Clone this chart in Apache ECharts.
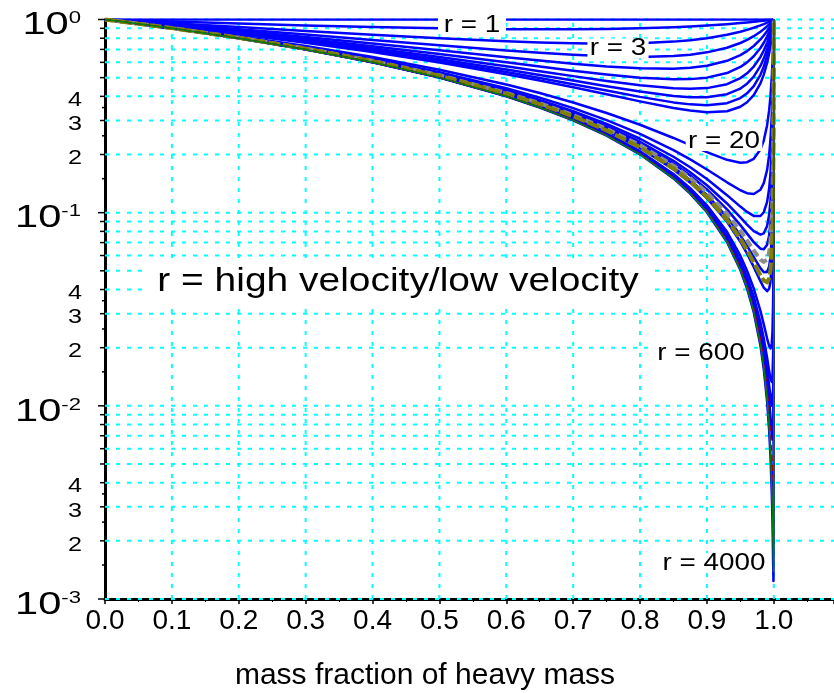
<!DOCTYPE html>
<html><head><meta charset="utf-8">
<script src="https://cdn.jsdelivr.net/npm/echarts@6/dist/echarts.min.js"></script>
<style>html,body{margin:0;padding:0;background:#fff}#c{width:834px;height:693px}</style>
</head><body><div id="c"></div>
<script>
// ---- data ----
const massFraction = [0,0.1,0.2,0.3,0.4,0.5,0.6,0.65,0.7,0.75,0.8,0.85,0.875,0.9,0.93,0.95,0.96,0.97,0.98,0.985,0.99,0.993,0.995,0.997,0.998,0.999,0.9995,0.99975,0.9999,1];
const r1   = [1,1,1,1,1,1,1,1,1,1,1,1,1,1,1,1,1,1,1,1,1,1,1,1,1,1,1,1,1,1];
const r2   = [1,0.9757,0.9529,0.9323,0.9143,0.9,0.8909,0.889,0.8895,0.8929,0.9,0.9121,0.9205,0.9308,0.9462,0.9587,0.9657,0.9733,0.9815,0.9859,0.9904,0.9932,0.9951,0.997,0.998,0.999,0.9995,0.99975,0.9999,1];
const r3   = [1,0.9561,0.9135,0.8727,0.8345,0.8,0.7714,0.7605,0.7529,0.75,0.7538,0.7682,0.7813,0.8,0.8331,0.8643,0.8836,0.9061,0.9324,0.9472,0.9633,0.9737,0.9809,0.9883,0.9921,0.996,0.998,0.999,0.9996,1];
const r4   = [1,0.9441,0.8892,0.8357,0.784,0.7353,0.6914,0.6724,0.6564,0.6447,0.64,0.6469,0.6576,0.676,0.7142,0.7557,0.784,0.8194,0.8643,0.8915,0.9225,0.9434,0.9583,0.9742,0.9826,0.9911,0.9955,0.9978,0.9991,1];
const r5   = [1,0.9363,0.8733,0.8112,0.7506,0.6923,0.6377,0.6128,0.5902,0.5714,0.5586,0.5565,0.5625,0.5765,0.6113,0.6545,0.6865,0.7293,0.7881,0.8262,0.8723,0.9048,0.9289,0.9554,0.9695,0.9844,0.9921,0.996,0.9984,1];
const r6   = [1,0.9308,0.8621,0.7941,0.7273,0.6622,0.6,0.5708,0.5435,0.5192,0.5,0.49,0.4913,0.5,0.5283,0.5682,0.6,0.6451,0.7118,0.7578,0.8167,0.8604,0.8942,0.9323,0.9534,0.9759,0.9877,0.9938,0.9975,1];
const r7   = [1,0.9267,0.8538,0.7815,0.7101,0.64,0.5723,0.5399,0.5091,0.4808,0.4566,0.4402,0.4375,0.4414,0.4625,0.4971,0.5266,0.5707,0.64,0.6908,0.7592,0.8127,0.8556,0.9059,0.9344,0.9657,0.9824,0.9911,0.9964,1];
const r8   = [1,0.9236,0.8475,0.7718,0.6969,0.6231,0.5511,0.5164,0.4829,0.4515,0.4235,0.4022,0.3961,0.3959,0.4104,0.4392,0.4655,0.5066,0.575,0.6278,0.7024,0.7636,0.8146,0.8767,0.9131,0.954,0.9763,0.9879,0.9951,1];
const r9   = [1,0.9211,0.8425,0.7642,0.6865,0.6098,0.5345,0.4979,0.4624,0.4286,0.3976,0.3723,0.3636,0.36,0.3687,0.392,0.4149,0.4522,0.5175,0.5702,0.648,0.7148,0.7726,0.8456,0.8899,0.9408,0.9692,0.9843,0.9937,1];
const r10  = [1,0.9191,0.8384,0.758,0.6781,0.599,0.5212,0.4831,0.4459,0.4102,0.3769,0.3484,0.3376,0.3312,0.335,0.3534,0.3729,0.4063,0.4672,0.5184,0.597,0.6674,0.7305,0.8132,0.8651,0.9264,0.9614,0.9802,0.992,1];
const r20  = [1,0.9098,0.8196,0.7295,0.6396,0.5499,0.4605,0.4161,0.3719,0.3282,0.2851,0.2436,0.2239,0.2056,0.1877,0.1815,0.1826,0.19,0.2121,0.2364,0.2838,0.3384,0.4003,0.5085,0.5992,0.7422,0.8496,0.918,0.9653,1];
const r30  = [1,0.9066,0.8132,0.7198,0.6265,0.5333,0.4403,0.3939,0.3476,0.3015,0.2558,0.2107,0.1887,0.1673,0.1436,0.1306,0.1262,0.125,0.1315,0.1422,0.1666,0.1984,0.2386,0.3196,0.4001,0.5576,0.71,0.8284,0.9228,1];
const r40  = [1,0.905,0.8099,0.7149,0.6199,0.525,0.4302,0.3828,0.3355,0.2884,0.2414,0.1948,0.1718,0.1492,0.1232,0.1075,0.1009,0.0962,0.0961,0.1005,0.1137,0.1329,0.1588,0.2152,0.2768,0.4154,0.5776,0.7284,0.8689,1];
const r50  = [1,0.904,0.8079,0.7119,0.6159,0.52,0.4241,0.3762,0.3283,0.2806,0.2329,0.1855,0.162,0.1387,0.1116,0.0945,0.0868,0.0803,0.0769,0.0782,0.0854,0.0975,0.1149,0.1548,0.201,0.3145,0.4666,0.6307,0.8079,1];
const r60  = [1,0.9033,0.8066,0.7099,0.6133,0.5167,0.4201,0.3718,0.3236,0.2754,0.2273,0.1794,0.1556,0.1319,0.104,0.0862,0.0779,0.0704,0.0651,0.0646,0.0683,0.0762,0.0883,0.1174,0.1525,0.2439,0.3786,0.542,0.7441,1];
const r70  = [1,0.9028,0.8057,0.7085,0.6114,0.5143,0.4172,0.3687,0.3202,0.2717,0.2233,0.1751,0.151,0.1271,0.0988,0.0805,0.0718,0.0637,0.0572,0.0556,0.0571,0.0623,0.071,0.0928,0.1199,0.1937,0.3102,0.4651,0.6805,1];
const r80  = [1,0.9025,0.805,0.7075,0.61,0.5125,0.415,0.3663,0.3176,0.269,0.2204,0.1718,0.1477,0.1236,0.095,0.0763,0.0673,0.0589,0.0516,0.0492,0.0493,0.0527,0.059,0.0758,0.0972,0.1574,0.2573,0.4,0.6195,1];
const r90  = [1,0.9022,0.8044,0.7066,0.6089,0.5111,0.4134,0.3645,0.3157,0.2668,0.2181,0.1694,0.1451,0.1209,0.092,0.0732,0.064,0.0552,0.0474,0.0445,0.0436,0.0457,0.0503,0.0635,0.0807,0.1303,0.2161,0.3455,0.5624,1];
const r100 = [1,0.902,0.804,0.706,0.608,0.51,0.412,0.3631,0.3141,0.2651,0.2162,0.1674,0.143,0.1187,0.0897,0.0707,0.0614,0.0524,0.0442,0.0409,0.0392,0.0404,0.0438,0.0543,0.0683,0.1098,0.1836,0.3001,0.51,1];
const r200 = [1,0.901,0.802,0.703,0.604,0.505,0.406,0.3565,0.307,0.2575,0.2081,0.1586,0.1339,0.1092,0.0796,0.0599,0.0501,0.0405,0.031,0.0264,0.0223,0.0204,0.0198,0.0211,0.0241,0.0351,0.0576,0.1002,0.208,1];
const r300 = [1,0.9007,0.8013,0.702,0.6027,0.5033,0.404,0.3543,0.3047,0.255,0.2054,0.1557,0.1309,0.1061,0.0763,0.0565,0.0466,0.0368,0.0271,0.0223,0.0177,0.0152,0.0138,0.0133,0.0141,0.0185,0.0287,0.0492,0.1061,1];
const r400 = [1,0.9005,0.801,0.7015,0.602,0.5025,0.403,0.3533,0.3035,0.2537,0.204,0.1543,0.1294,0.1045,0.0747,0.0549,0.0449,0.035,0.0252,0.0203,0.0156,0.0128,0.0112,0.01,0.0101,0.0122,0.0178,0.0295,0.0636,1];
const r600 = [1,0.9003,0.8007,0.701,0.6013,0.5017,0.402,0.3522,0.3023,0.2525,0.2027,0.1528,0.1279,0.103,0.0731,0.0532,0.0433,0.0333,0.0234,0.0185,0.0136,0.0107,0.00886,0.00724,0.0067,0.00708,0.00933,0.01453,0.0304,1];
const r1000 = [1,0.9002,0.8004,0.7006,0.6008,0.501,0.4012,0.3513,0.3014,0.2515,0.2016,0.1517,0.1268,0.1018,0.0719,0.0519,0.0419,0.032,0.022,0.017,0.0121,0.00913,0.00719,0.00532,0.00449,0.00399,0.00449,0.00622,0.01198,1];
const r2000 = [1,0.9001,0.8002,0.7003,0.6004,0.5005,0.4006,0.3507,0.3007,0.2508,0.2008,0.1508,0.1259,0.1009,0.0709,0.051,0.041,0.031,0.021,0.016,0.011,0.00803,0.00604,0.00408,0.00312,0.00225,0.002,0.00225,0.00359,1];
const r3000 = [1,0.9001,0.8001,0.7002,0.6003,0.5003,0.4004,0.3504,0.3005,0.2505,0.2005,0.1506,0.1256,0.1006,0.0706,0.0506,0.0406,0.0307,0.0207,0.0157,0.0107,0.00768,0.00569,0.0037,0.00272,0.00178,0.00139,0.00136,0.00188,1];
const r4000 = [1,0.9,0.8001,0.7002,0.6002,0.5002,0.4003,0.3503,0.3003,0.2504,0.2004,0.1504,0.1254,0.1005,0.0705,0.0505,0.0405,0.0305,0.0205,0.0155,0.0105,0.0075,0.00551,0.00352,0.00253,0.00156,0.00124,0.00123,0.00124,1];

// axis / tick labels
const xTickLabels = ['0.0','0.1','0.2','0.3','0.4','0.5','0.6','0.7','0.8','0.9','1.0'];
const yMajorValues = [1, 0.1, 0.01, 0.001];
const yMajorExponents = ['0', '-1', '-2', '-3'];
const yMinorLabelValues = [0.4, 0.3, 0.2, 0.04, 0.03, 0.02, 0.004, 0.003, 0.002];
const yMinorLabels = ['4', '3', '2', '4', '3', '2', '4', '3', '2'];
const yGridValues = [1,0.9,0.8,0.7,0.6,0.5,0.4,0.3,0.2,0.1,0.09,0.08,0.07,0.06,0.05,0.04,0.03,0.02,0.01,0.009,0.008,0.007,0.006,0.005,0.004,0.003,0.002,0.001];
const ySmallTickValues = [0.35,0.25,0.15,0.035,0.025,0.015,0.0035,0.0025,0.0015];
const xGridValues = [0.1,0.2,0.3,0.4,0.5,0.6,0.7,0.8,0.9,1.0];
const xTitle = 'mass fraction of heavy mass';
const noteText = 'r = high velocity/low velocity';

// ---- styles ----
const BLUE = '#0000FF';
const curves = [
  ['r=1', r1, BLUE, 'solid', 2.5], ['r=2', r2, BLUE, 'solid', 2.5], ['r=3', r3, BLUE, 'solid', 2.5],
  ['r=4', r4, BLUE, 'solid', 2.5], ['r=5', r5, BLUE, 'solid', 2.5], ['r=6', r6, BLUE, 'solid', 2.5],
  ['r=7', r7, BLUE, 'solid', 2.5], ['r=8', r8, BLUE, 'solid', 2.5], ['r=9', r9, BLUE, 'solid', 2.5],
  ['r=10', r10, BLUE, 'solid', 2.5], ['r=20', r20, BLUE, 'solid', 2.5], ['r=30', r30, BLUE, 'solid', 2.5],
  ['r=40', r40, BLUE, 'solid', 2.5], ['r=50', r50, BLUE, 'solid', 2.5], ['r=60', r60, BLUE, 'solid', 2.5],
  ['r=80', r80, BLUE, 'solid', 2.5], ['r=100', r100, BLUE, 'solid', 2.5], ['r=200', r200, BLUE, 'solid', 2.5],
  ['r=300', r300, BLUE, 'solid', 2.5], ['r=400', r400, BLUE, 'solid', 2.5], ['r=600', r600, BLUE, 'solid', 2.5],
  ['r=4000', r4000, BLUE, 'solid', 2.5],
  ['r=70', r70, '#8C8C8C', [8, 4], 4], ['r=90', r90, '#808000', [12, 3], 4],
  ['r=1000', r1000, '#B00000', [6, 4], 1.5], ['r=2000', r2000, '#800080', [6, 4], 1.5],
  ['r=3000', r3000, '#008000', 'solid', 1.5]
];

const ctx = document.createElement('canvas').getContext('2d');
function textW(t, font) { ctx.font = font; return ctx.measureText(t).width; }
const FF = '"Liberation Sans", Arial, sans-serif';
const X_MAX = 1.09;

const series = curves.map(c => ({
  type: 'line', name: c[0], showSymbol: false, silent: true, z: 3,
  data: massFraction.map((x, i) => [x, c[1][i]]),
  lineStyle: { color: c[2], type: c[3], width: c[4], join: 'round' }
}));

// horizontal grid lines
series.push({
  type: 'custom', coordinateSystem: 'cartesian2d', clip: false, silent: true, z: 1,
  data: yGridValues.map(v => [0, v]),
  renderItem: (p, api) => {
    const v = api.value(1);
    const a = api.coord([0, v]), b = api.coord([X_MAX, v]);
    return { type: 'line', shape: { x1: a[0], y1: a[1], x2: b[0], y2: b[1] },
      style: { stroke: '#00FFFF', lineWidth: 2, lineDash: [4, 7] } };
  }
});
// vertical grid lines
series.push({
  type: 'custom', coordinateSystem: 'cartesian2d', clip: false, silent: true, z: 1,
  data: xGridValues.map(v => [v, 0.001]),
  renderItem: (p, api) => {
    const v = api.value(0);
    const a = api.coord([v, 0.001]), b = api.coord([v, 1]);
    return { type: 'line', shape: { x1: a[0], y1: a[1], x2: b[0], y2: b[1] },
      style: { stroke: '#00FFFF', lineWidth: 2, lineDash: [4, 7] } };
  }
});
// y ticks (major, minor, small)
const yTickData = [];
yMajorValues.forEach(v => yTickData.push([0, v, 7]));
yGridValues.forEach(v => { if (yMajorValues.indexOf(v) < 0) yTickData.push([0, v, 5]); });
ySmallTickValues.forEach(v => yTickData.push([0, v, 3]));
series.push({
  type: 'custom', coordinateSystem: 'cartesian2d', clip: false, silent: true, z: 2,
  data: yTickData,
  renderItem: (p, api) => {
    const a = api.coord([0, api.value(1)]);
    const len = api.value(2);
    return { type: 'line', shape: { x1: a[0] - len, y1: a[1], x2: a[0], y2: a[1] },
      style: { stroke: '#000', lineWidth: 1.5 } };
  }
});
// y major labels 10^n
series.push({
  type: 'custom', coordinateSystem: 'cartesian2d', clip: false, silent: true, z: 2,
  data: yMajorValues.map(v => [0, v]),
  renderItem: (p, api) => {
    const a = api.coord([0, api.value(1)]);
    const exp = yMajorExponents[p.dataIndex];
    const sx = 1.3;
    const supFont = '17px ' + FF, mainFont = '32px ' + FF;
    const right = a[0] - 24;
    const supW = textW(exp, supFont) * sx;
    return { type: 'group', children: [
      { type: 'text', x: right, y: a[1] - 1, scaleX: sx,
        style: { text: exp, font: supFont, fill: '#000', align: 'right', verticalAlign: 'middle' } },
      { type: 'text', x: right - supW, y: a[1] + 6, scaleX: sx,
        style: { text: '10', font: mainFont, fill: '#000', align: 'right', verticalAlign: 'middle' } }
    ] };
  }
});
// y minor labels
series.push({
  type: 'custom', coordinateSystem: 'cartesian2d', clip: false, silent: true, z: 2,
  data: yMinorLabelValues.map(v => [0, v]),
  renderItem: (p, api) => {
    const a = api.coord([0, api.value(1)]);
    return { type: 'text', x: a[0] - 23, y: a[1] + 4, scaleX: 1.2,
      style: { text: yMinorLabels[p.dataIndex], font: '21px ' + FF, fill: '#000', align: 'right', verticalAlign: 'middle' } };
  }
});

function boxText(text, x, y, size, sx, pad, lh) {
  return { type: 'text', x: x, y: y, scaleX: sx, z: 100,
    style: { text: text, font: size + 'px ' + FF, fill: '#000', align: 'center', verticalAlign: 'middle',
      backgroundColor: '#fff', padding: pad, lineHeight: lh } };
}

const chart = echarts.init(document.getElementById('c'));
chart.setOption({
  animation: false,
  backgroundColor: '#fff',
  grid: { left: 105, right: 0, top: 19.5, bottom: 94, containLabel: false },
  xAxis: {
    type: 'value', min: 0, max: X_MAX, interval: 0.1,
    axisLine: { show: true, lineStyle: { color: '#000', width: 3 } },
    axisTick: { show: true, length: 5, lineStyle: { color: '#000', width: 1.5 } },
    minorTick: { show: true, splitNumber: 2, length: 3, lineStyle: { color: '#000', width: 1 } },
    splitLine: { show: false },
    axisLabel: { show: true, showMaxLabel: false, fontSize: 28, fontFamily: FF, color: '#000', margin: 8,
      formatter: v => { const i = Math.round(v * 10); return (Math.abs(v * 10 - i) < 1e-6 && i <= 10) ? xTickLabels[i] : ''; } }
  },
  yAxis: {
    type: 'log', logBase: 10, min: 0.001, max: 1,
    axisLine: { show: true, lineStyle: { color: '#000', width: 3 } },
    axisTick: { show: false }, axisLabel: { show: false }, splitLine: { show: false }
  },
  series: series,
  graphic: [
    boxText('r = 1', 472, 25, 24, 1.16, [0, 5], 18),
    boxText('r = 3', 618, 48.5, 24, 1.16, [0, 2], 20),
    boxText('r = 20', 724, 141, 24, 1.16, [0, 2], 20),
    boxText('r = 600', 701, 353, 24, 1.16, [0, 2], 20),
    boxText('r = 4000', 714, 563, 24, 1.16, [0, 2], 20),
    boxText(noteText, 398, 282, 33, 1.18, [6, 9], 36),
    { type: 'text', x: 425, y: 676, z: 100,
      style: { text: xTitle, font: '30px ' + FF, fill: '#000', align: 'center', verticalAlign: 'middle' } }
  ]
});
</script>
</body></html>
